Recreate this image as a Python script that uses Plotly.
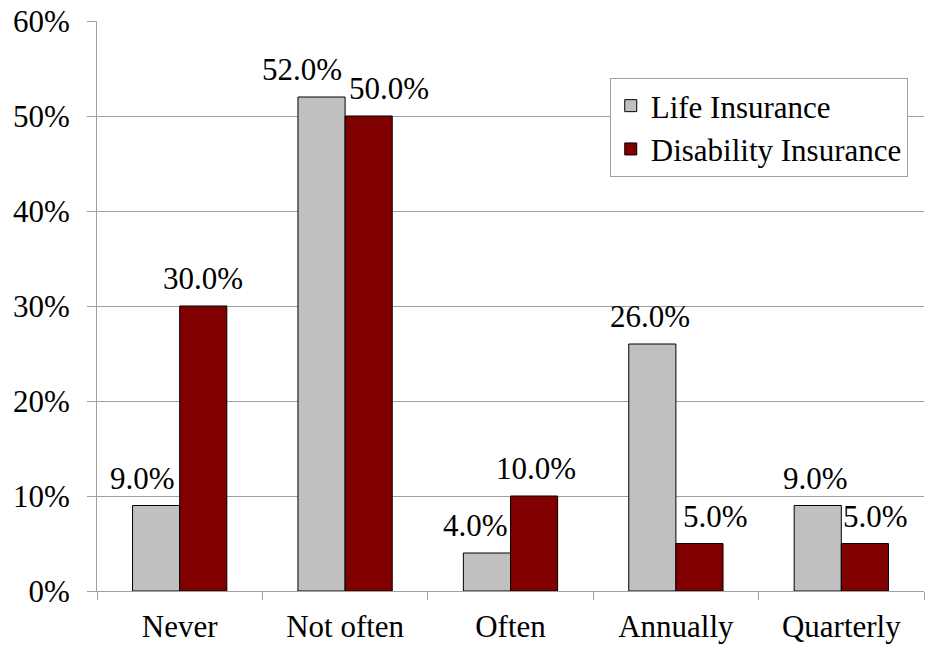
import plotly.graph_objects as go

categories = ["Never", "Not often", "Often", "Annually", "Quarterly"]
life_insurance = [9.0, 52.0, 4.0, 26.0, 9.0]
disability_insurance = [30.0, 50.0, 10.0, 5.0, 5.0]

FONT = "Liberation Serif, Times New Roman, serif"
SIZE = 31
GRID = "#a0a0a0"

WIDTH, HEIGHT = 925, 645
MARGIN = dict(l=97, r=1, t=21, b=54)
BARGAP = 0.43

# horizontal nudges (px) that keep neighbouring value labels apart
life_nudge = [-14, -20, -11, -2, -2]
dis_nudge = [0, 20, 2, 16, 11]

series = [
    ("Life Insurance", life_insurance, "#c0c0c0", life_nudge),
    ("Disability Insurance", disability_insurance, "#800000", dis_nudge),
]

fig = go.Figure()
for name, values, color, _ in series:
    fig.add_trace(go.Bar(
        name=name,
        x=categories,
        y=[v / 100 for v in values],
        marker=dict(color=color, line=dict(color="black", width=1)),
    ))

# value labels above each bar
plot_w = WIDTH - MARGIN["l"] - MARGIN["r"]
bar_w = plot_w / len(categories) * (1 - BARGAP) / len(series)
for j, (name, values, color, nudge) in enumerate(series):
    offset = (j - (len(series) - 1) / 2) * bar_w
    for cat, v, dx in zip(categories, values, nudge):
        fig.add_annotation(
            x=cat, y=v / 100, xref="x", yref="y",
            text=f"{v:.1f}%", showarrow=False,
            xanchor="center", yanchor="bottom",
            xshift=offset + dx, yshift=8,
            font=dict(family=FONT, size=SIZE, color="black"),
        )

fig.update_layout(
    width=WIDTH,
    height=HEIGHT,
    margin=MARGIN,
    paper_bgcolor="white",
    plot_bgcolor="white",
    barmode="group",
    bargap=BARGAP,
    bargroupgap=0,
    font=dict(family=FONT, size=SIZE, color="black"),
    showlegend=True,
    legend=dict(
        x=0.62, y=0.9, xanchor="left", yanchor="top",
        bgcolor="white", bordercolor=GRID, borderwidth=1,
        font=dict(family=FONT, size=SIZE, color="black"),
        itemwidth=30, tracegroupgap=0,
    ),
)

fig.update_yaxes(
    range=[0, 0.6], dtick=0.1, tickformat=".0%",
    showgrid=True, gridcolor=GRID, gridwidth=1,
    showline=True, linecolor=GRID, linewidth=1,
    ticks="outside", ticklen=9, tickcolor=GRID,
    ticklabelstandoff=11,
    tickfont=dict(family=FONT, size=SIZE, color="black"),
    zeroline=False,
)
fig.update_xaxes(
    showline=True, linecolor=GRID, linewidth=1,
    ticks="outside", ticklen=8, tickcolor=GRID, tickson="boundaries",
    ticklabelstandoff=8,
    tickfont=dict(family=FONT, size=SIZE, color="black"),
    showgrid=False,
)

fig.write_html("out.html")
